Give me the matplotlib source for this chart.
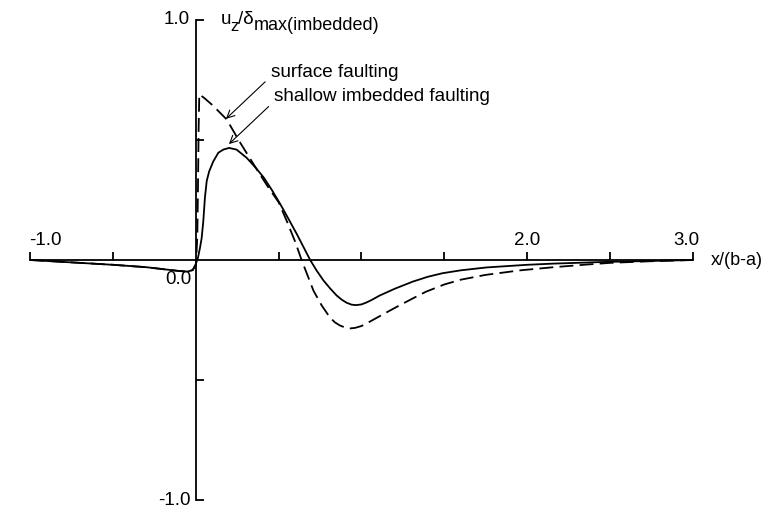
import numpy as np
import matplotlib
matplotlib.use("Agg")
import matplotlib.pyplot as plt

plt.rcParams['font.family'] = ['Liberation Sans', 'DejaVu Sans']
plt.rcParams['lines.scale_dashes'] = False

# shallow imbedded faulting (solid)
x_imb = [-1.0, -0.75, -0.5, -0.3, -0.2, -0.1, -0.05, -0.02, 0.0, 0.012,
         0.024, 0.034, 0.044, 0.054, 0.065, 0.08, 0.104, 0.135, 0.165, 0.2,
         0.245, 0.306, 0.36, 0.41, 0.46, 0.51, 0.56, 0.61, 0.69, 0.73,
         0.77, 0.81, 0.85, 0.88, 0.91, 0.94, 0.967, 1.0, 1.03, 1.06,
         1.11, 1.2, 1.31, 1.4, 1.49, 1.6, 1.755, 2.0, 2.16, 2.47,
         2.75, 3.0]
y_imb = [0.0, -0.01, -0.02, -0.03, -0.038, -0.046, -0.048, -0.042, -0.015, 0.01,
         0.05, 0.09, 0.16, 0.26, 0.33, 0.37, 0.41, 0.447, 0.46, 0.467,
         0.46, 0.426, 0.385, 0.343, 0.29, 0.232, 0.17, 0.107, 0.0, -0.045,
         -0.085, -0.118, -0.148, -0.165, -0.178, -0.186, -0.188, -0.185, -0.177, -0.167,
         -0.148, -0.12, -0.09, -0.07, -0.055, -0.043, -0.031, -0.02, -0.015, -0.008,
         -0.004, 0.0]

# surface faulting (dashed)
x_surf = [-1.0, -0.75, -0.5, -0.3, -0.2, -0.1, -0.05, -0.02, 0.0, 0.008,
          0.012, 0.016, 0.02, 0.05, 0.1, 0.185, 0.266, 0.367, 0.43, 0.5,
          0.55, 0.6, 0.638, 0.71, 0.76, 0.81, 0.84, 0.87, 0.9, 0.93,
          0.96, 1.0, 1.05, 1.11, 1.2, 1.31, 1.39, 1.5, 1.6, 1.75,
          1.96, 2.16, 2.36, 2.5, 2.75, 3.0]
y_surf = [0.0, -0.01, -0.02, -0.03, -0.038, -0.046, -0.048, -0.042, -0.02, 0.1,
          0.3, 0.55, 0.69, 0.675, 0.645, 0.586, 0.49, 0.378, 0.31, 0.24,
          0.16, 0.075, 0.0, -0.128, -0.19, -0.24, -0.26, -0.273, -0.281, -0.285,
          -0.283, -0.275, -0.257, -0.234, -0.2, -0.16, -0.132, -0.102, -0.082, -0.062,
          -0.043, -0.03, -0.019, -0.012, -0.005, 0.0]

xticks = [-1.0, -0.5, 0.5, 1.0, 1.5, 2.0, 2.5, 3.0]
yticks = [-1.0, -0.5, 0.5, 1.0]

fig = plt.figure(figsize=(7.62, 5.14), dpi=100)
ax = fig.add_axes([0.04, 0.0272, 0.8688, 0.9339])

ax.plot(x_imb, y_imb, color='k', lw=1.3)
ax.plot(x_surf, y_surf, color='k', lw=1.3, dashes=(10, 4.5))

ax.set_xlim(-1.0, 3.0)
ax.set_ylim(-1.0, 1.0)

for s in ['top', 'right']:
    ax.spines[s].set_visible(False)
ax.spines['left'].set_position(('data', 0))
ax.spines['bottom'].set_position(('data', 0))
ax.spines['left'].set_linewidth(1.3)
ax.spines['bottom'].set_linewidth(1.3)
ax.set_xticks(xticks)
ax.set_yticks(yticks)
ax.tick_params(direction='in', length=6, width=1.3, labelbottom=False, labelleft=False)

# tick labels
fs = 13.5
ax.text(-1.01, 0.045, '-1.0', fontsize=fs, ha='left', va='bottom')
ax.text(2.0, 0.045, '2.0', fontsize=fs, ha='center', va='bottom')
ax.text(2.965, 0.045, '3.0', fontsize=fs, ha='center', va='bottom')
ax.text(-0.025, -0.045, '0.0', fontsize=fs, ha='right', va='top')
ax.text(-0.035, 1.0, '1.0', fontsize=fs, ha='right', va='center')
ax.text(-0.035, -1.0, '-1.0', fontsize=fs, ha='right', va='center')
ax.text(3.11, 0.0, 'x/(b-a)', fontsize=13, ha='left', va='center')

# y label u_z / delta_max(imbedded), subscripts nearly full size
t = ax.text(0.152, 0.965, 'u', fontsize=13.5, ha='left', va='bottom')
t = ax.annotate('z', xy=(1, 0), xycoords=t, xytext=(-0.8, -4), textcoords='offset points',
                fontsize=12, ha='left', va='bottom')
t = ax.annotate('/δ', xy=(1, 0), xycoords=t, xytext=(-0.3, 4), textcoords='offset points',
                fontsize=13.5, ha='left', va='bottom')
t = ax.annotate('max(imbedded)', xy=(1, 0), xycoords=t, xytext=(-0.3, -4), textcoords='offset points',
                fontsize=13, ha='left', va='bottom')

fa = 13.6
ax.annotate('surface faulting', xy=(0.181, 0.588), xytext=(0.453, 0.783),
            fontsize=fa, ha='left', va='center',
            arrowprops=dict(arrowstyle='->', lw=0.8, color='k', relpos=(0, 0.25),
                            shrinkA=3, shrinkB=0))
ax.annotate('shallow imbedded faulting', xy=(0.199, 0.483), xytext=(0.474, 0.68),
            fontsize=fa, ha='left', va='center',
            arrowprops=dict(arrowstyle='->', lw=0.8, color='k', relpos=(0, 0.25),
                            shrinkA=3, shrinkB=0))

plt.savefig('out.png', dpi=100)
